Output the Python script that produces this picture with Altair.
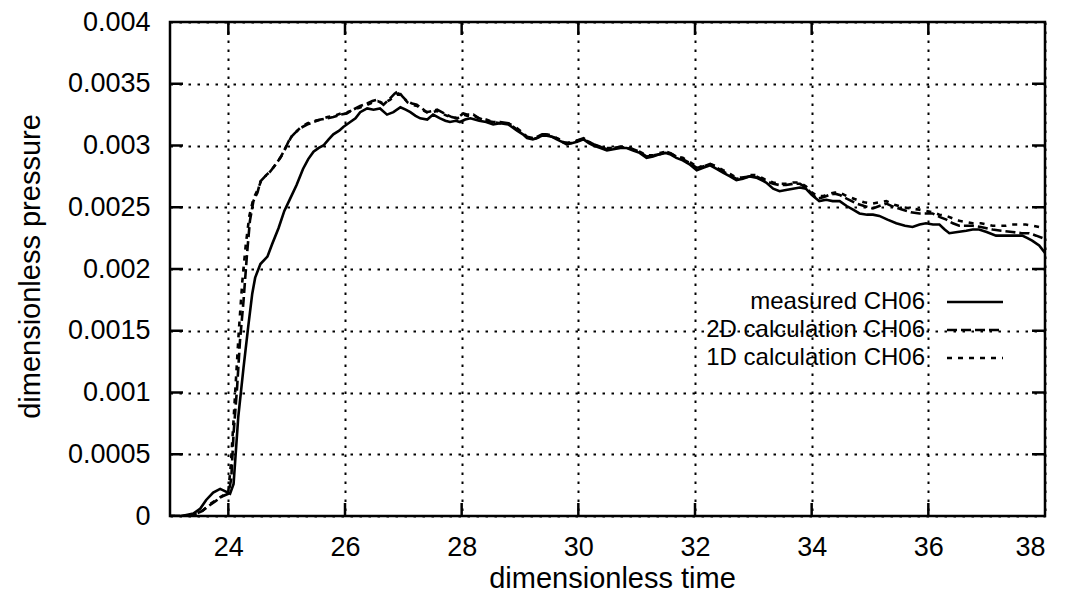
import altair as alt
import pandas as pd

# ---------------- data ----------------
meas_t = [23.0, 23.2, 23.4, 23.52, 23.62, 23.74, 23.86, 23.95, 24.03, 24.09, 24.17, 24.26, 24.34, 24.41,
          24.46, 24.55, 24.67, 24.75, 24.86, 24.96, 25.06, 25.17, 25.28, 25.37, 25.46, 25.55, 25.63, 25.72,
          25.8, 25.9, 25.97, 26.09, 26.18, 26.26, 26.38, 26.49, 26.6, 26.72, 26.83, 26.95, 27.04, 27.12,
          27.21, 27.29, 27.41, 27.51, 27.63, 27.72, 27.8, 27.9, 27.97, 28.06, 28.15, 28.3, 28.42, 28.54,
          28.66, 28.8, 28.95, 29.05, 29.12, 29.22, 29.29, 29.38, 29.46, 29.55, 29.63, 29.72, 29.8, 29.9,
          29.98, 30.09, 30.18, 30.26, 30.38, 30.49, 30.6, 30.72, 30.83, 30.94, 31.05, 31.17, 31.28, 31.4,
          31.5, 31.57, 31.68, 31.79, 31.9, 32.03, 32.14, 32.26, 32.37, 32.48, 32.6, 32.71, 32.82, 32.94,
          33.05, 33.14, 33.22, 33.34, 33.45, 33.56, 33.68, 33.8, 33.9, 34.0, 34.13, 34.25, 34.36, 34.48,
          34.6, 34.71, 34.82, 34.95, 35.05, 35.16, 35.3, 35.45, 35.6, 35.73, 35.85, 35.96, 36.08, 36.19,
          36.28, 36.36, 36.5, 36.65, 36.76, 36.87, 37.0, 37.16, 37.3, 37.45, 37.61, 37.7, 37.78, 37.9, 38.0]
meas_p = [0.0, 0.0, 0.00002, 0.00006, 0.00013, 0.00019, 0.00022, 0.0002, 0.00018, 0.00026, 0.0008, 0.0012,
          0.00153, 0.0018, 0.00193, 0.00204, 0.0021, 0.0022, 0.00233, 0.00247, 0.00257, 0.00268, 0.00281,
          0.00289, 0.00295, 0.00298, 0.003, 0.00305, 0.00309, 0.00312, 0.00315, 0.00319, 0.00322, 0.00327,
          0.0033, 0.00329, 0.0033, 0.00325, 0.00327, 0.00331, 0.00329, 0.00327, 0.00324, 0.00322, 0.00321,
          0.00325, 0.00322, 0.0032, 0.00319, 0.0032, 0.00319, 0.00321, 0.00322, 0.0032, 0.00319, 0.00317,
          0.00318, 0.00317, 0.00312, 0.00309, 0.00306, 0.00305, 0.00306, 0.00308, 0.00308, 0.00307, 0.00305,
          0.00303, 0.00301, 0.00302, 0.00303, 0.00305, 0.00302, 0.003, 0.00298, 0.00296, 0.00297, 0.00298,
          0.00298, 0.00296, 0.00294, 0.0029, 0.00291, 0.00293, 0.00294, 0.00293, 0.0029, 0.00288, 0.00285,
          0.0028, 0.00282, 0.00284, 0.00281, 0.00278, 0.00275, 0.00272, 0.00273, 0.00275, 0.00274, 0.00272,
          0.0027, 0.00265, 0.00263, 0.00264, 0.00265, 0.00266, 0.00265, 0.0026, 0.00255, 0.00256, 0.00255,
          0.00255, 0.00251, 0.00248, 0.00245, 0.00244, 0.00244, 0.00243, 0.0024, 0.00237, 0.00235, 0.00234,
          0.00236, 0.00237, 0.00236, 0.00236, 0.00232, 0.00229, 0.0023, 0.00231, 0.00232, 0.00232, 0.0023,
          0.00227, 0.00227, 0.00227, 0.00227, 0.00225, 0.00223, 0.00219, 0.00213]

calc2d_t = [23.0, 23.2, 23.4, 23.55, 23.66, 23.78, 23.9, 24.0, 24.05, 24.09, 24.15, 24.2, 24.26, 24.32,
            24.37, 24.43, 24.5, 24.55, 24.63, 24.72, 24.8, 24.89, 24.98, 25.06, 25.14, 25.23, 25.35, 25.46,
            25.58, 25.69, 25.8, 25.92, 26.03, 26.14, 26.26, 26.38, 26.47, 26.55, 26.66, 26.77, 26.85, 26.91,
            26.98, 27.06, 27.15, 27.23, 27.32, 27.4, 27.5, 27.58, 27.66, 27.74, 27.83, 27.92, 28.03, 28.1,
            28.2, 28.3, 28.42, 28.54, 28.66, 28.8, 28.95, 29.05, 29.12, 29.22, 29.29, 29.38, 29.46, 29.55,
            29.63, 29.72, 29.8, 29.9, 29.98, 30.09, 30.18, 30.26, 30.38, 30.49, 30.6, 30.72, 30.83, 30.94,
            31.05, 31.17, 31.28, 31.4, 31.5, 31.57, 31.68, 31.79, 31.9, 32.03, 32.14, 32.26, 32.37, 32.48,
            32.6, 32.71, 32.82, 32.94, 33.05, 33.14, 33.22, 33.34, 33.45, 33.56, 33.68, 33.8, 33.9, 34.0,
            34.09, 34.2, 34.3, 34.4, 34.48, 34.6, 34.77, 34.9, 35.05, 35.16, 35.28, 35.42, 35.56, 35.7,
            35.85, 35.96, 36.07, 36.2, 36.31, 36.42, 36.53, 36.65, 36.76, 36.9, 37.0, 37.1, 37.25, 37.44,
            37.6, 37.73, 37.85, 37.96, 38.0]
calc2d_p = [0.0, 0.0, 0.00001, 0.00004, 0.00008, 0.00012, 0.00016, 0.00018, 0.0003, 0.00067, 0.00104,
            0.00142, 0.00174, 0.00212, 0.00239, 0.00255, 0.00262, 0.00271, 0.00275, 0.00279, 0.00284, 0.0029,
            0.00298, 0.00306, 0.0031, 0.00314, 0.00317, 0.00319, 0.00321, 0.00322, 0.00323, 0.00325, 0.00326,
            0.00329, 0.00332, 0.00334, 0.00336, 0.00337, 0.00333, 0.00338, 0.00342, 0.00344, 0.0034, 0.00336,
            0.00334, 0.00333, 0.0033, 0.00327, 0.00328, 0.00329, 0.00327, 0.00325, 0.00323, 0.00322, 0.00326,
            0.00325, 0.00325, 0.00322, 0.0032, 0.00319, 0.00319, 0.00318, 0.00313, 0.0031, 0.00307, 0.00306,
            0.00307, 0.00309, 0.00309, 0.00307, 0.00306, 0.00303, 0.00302, 0.00302, 0.00304, 0.00306, 0.00303,
            0.00301, 0.00299, 0.00297, 0.00298, 0.00299, 0.00298, 0.00297, 0.00295, 0.00291, 0.00292, 0.00293,
            0.00295, 0.00294, 0.00291, 0.00289, 0.00286, 0.00282, 0.00283, 0.00285, 0.00282, 0.00279, 0.00276,
            0.00273, 0.00274, 0.00275, 0.00275, 0.00273, 0.00271, 0.00269, 0.00268, 0.00268, 0.00269, 0.00269,
            0.00266, 0.00261, 0.00257, 0.00258, 0.0026, 0.00261, 0.0026, 0.00257, 0.00253, 0.00251, 0.00249,
            0.00251, 0.00253, 0.0025, 0.00248, 0.00246, 0.00245, 0.00245, 0.00245, 0.00242, 0.0024, 0.00237,
            0.00235, 0.00235, 0.00235, 0.00234, 0.00233, 0.00232, 0.00231, 0.0023, 0.00229, 0.00229, 0.00227,
            0.00225, 0.00224]

calc1d_t = [23.0, 23.2, 23.4, 23.55, 23.7, 23.82, 23.92, 24.0, 24.04, 24.08, 24.13, 24.18, 24.24, 24.3,
            24.36, 24.43, 24.5, 24.56, 24.65, 24.74, 24.83, 24.92, 25.0, 25.08, 25.16, 25.25, 25.36, 25.47,
            25.58, 25.7, 25.82, 25.93, 26.04, 26.15, 26.27, 26.38, 26.48, 26.56, 26.66, 26.77, 26.85, 26.92,
            27.0, 27.07, 27.15, 27.24, 27.32, 27.4, 27.5, 27.58, 27.66, 27.75, 27.84, 27.93, 28.03, 28.1,
            28.2, 28.3, 28.42, 28.54, 28.66, 28.8, 28.95, 29.05, 29.12, 29.22, 29.29, 29.38, 29.46, 29.55,
            29.63, 29.72, 29.8, 29.9, 29.98, 30.09, 30.18, 30.26, 30.38, 30.49, 30.6, 30.72, 30.83, 30.94,
            31.05, 31.17, 31.28, 31.4, 31.5, 31.57, 31.68, 31.79, 31.9, 32.03, 32.14, 32.26, 32.37, 32.48,
            32.6, 32.71, 32.82, 32.94, 33.05, 33.14, 33.22, 33.34, 33.45, 33.56, 33.68, 33.8, 33.9, 34.0,
            34.1, 34.2, 34.3, 34.4, 34.48, 34.6, 34.77, 34.9, 35.05, 35.16, 35.28, 35.42, 35.56, 35.7, 35.85,
            35.96, 36.07, 36.19, 36.31, 36.42, 36.53, 36.65, 36.76, 36.9, 37.0, 37.1, 37.2, 37.33, 37.45,
            37.57, 37.67, 37.8, 37.9, 38.0]
calc1d_p = [0.0, 0.0, 0.00001, 0.00004, 0.0001, 0.00014, 0.00017, 0.0002, 0.0004, 0.0007, 0.0011, 0.0015,
            0.0019, 0.0022, 0.00243, 0.00257, 0.00264, 0.00271, 0.00276, 0.0028, 0.00286, 0.00292, 0.003,
            0.00307, 0.00311, 0.00315, 0.00318, 0.0032, 0.00321, 0.00323, 0.00324, 0.00326, 0.00327, 0.00329,
            0.00331, 0.00333, 0.00335, 0.00336, 0.00334, 0.00337, 0.0034, 0.00342, 0.00339, 0.00335, 0.00333,
            0.00332, 0.00329, 0.00327, 0.00327, 0.00328, 0.00326, 0.00324, 0.00323, 0.00322, 0.00325, 0.00324,
            0.00324, 0.00322, 0.00321, 0.00319, 0.00318, 0.00318, 0.00314, 0.0031, 0.00307, 0.00305, 0.00306,
            0.00308, 0.00309, 0.00308, 0.00306, 0.00304, 0.00302, 0.00303, 0.00304, 0.00305, 0.00303, 0.00301,
            0.00299, 0.00298, 0.00298, 0.00299, 0.00299, 0.00297, 0.00295, 0.00292, 0.00292, 0.00294, 0.00295,
            0.00294, 0.00291, 0.0029, 0.00287, 0.00283, 0.00283, 0.00285, 0.00283, 0.0028, 0.00277, 0.00274,
            0.00274, 0.00276, 0.00276, 0.00274, 0.00272, 0.0027, 0.00269, 0.00269, 0.0027, 0.0027, 0.00267,
            0.00262, 0.00259, 0.00259, 0.00261, 0.00262, 0.00262, 0.00259, 0.00256, 0.00254, 0.00253, 0.00254,
            0.00255, 0.00252, 0.0025, 0.00249, 0.00248, 0.00247, 0.00246, 0.00244, 0.00243, 0.00241, 0.00239,
            0.00238, 0.00237, 0.00237, 0.00236, 0.00235, 0.00235, 0.00235, 0.00236, 0.00236, 0.00236, 0.00235,
            0.00234, 0.00232]

x_ticks = [24, 26, 28, 30, 32, 34, 36, 38]
y_ticks = [0, 0.0005, 0.001, 0.0015, 0.002, 0.0025, 0.003, 0.0035, 0.004]
legend_labels = ["measured CH06", "2D calculation CH06", "1D calculation CH06"]

# ---------------- chart ----------------
W, H = 875, 494
FONT = "Liberation Sans"

xs = alt.Scale(domain=[23, 38], nice=False, zero=False)
ys = alt.Scale(domain=[0, 0.004], nice=False)

x_axis = alt.Axis(values=x_ticks, format="d", title="dimensionless time", grid=True, gridColor="black",
                  gridDash=[2.5, 6.5], gridWidth=2, gridOpacity=1, ticks=False, domain=False,
                  labelFontSize=27, labelPadding=18, labelColor="black", labelFont=FONT,
                  titleFontSize=29, titleFont=FONT, titleFontWeight="normal", titleColor="black",
                  titleX=442, titleY=62, titleBaseline="middle")
y_axis = alt.Axis(values=y_ticks, title="dimensionless pressure", format="~g", grid=True,
                  gridColor="black", gridDash=[2.5, 6.5], gridWidth=2, gridOpacity=1, ticks=False,
                  domain=False, labelFontSize=27, labelPadding=20, labelColor="black", labelFont=FONT,
                  titleFontSize=29, titleFont=FONT, titleFontWeight="normal", titleColor="black",
                  titleX=-140, titleY=244, titleAngle=-90, titleBaseline="middle", titleAlign="center")

df_m = pd.DataFrame({"t": meas_t, "p": meas_p})
df_2 = pd.DataFrame({"t": calc2d_t, "p": calc2d_p})
df_1 = pd.DataFrame({"t": calc1d_t, "p": calc1d_p})

base_line = dict(color="black", strokeWidth=2.6, clip=True)

l_meas = alt.Chart(df_m).mark_line(**base_line).encode(
    x=alt.X("t:Q", scale=xs, axis=x_axis), y=alt.Y("p:Q", scale=ys, axis=y_axis))
l_2d = alt.Chart(df_2).mark_line(strokeDash=[10, 4], **base_line).encode(
    x=alt.X("t:Q", scale=xs), y=alt.Y("p:Q", scale=ys))
l_1d = alt.Chart(df_1).mark_line(strokeDash=[5, 6], **base_line).encode(
    x=alt.X("t:Q", scale=xs), y=alt.Y("p:Q", scale=ys))

# inward ticks on all four sides (gnuplot style)
xt = pd.DataFrame({"t": x_ticks[:-1]})
yt = pd.DataFrame({"p": y_ticks[1:-1]})
tick = dict(color="black", strokeWidth=2.5)
tk_b = alt.Chart(xt).mark_rule(**tick).encode(x=alt.X("t:Q", scale=xs), y=alt.value(H), y2=alt.value(H - 13))
tk_t = alt.Chart(xt).mark_rule(**tick).encode(x=alt.X("t:Q", scale=xs), y=alt.value(0), y2=alt.value(13))
tk_l = alt.Chart(yt).mark_rule(**tick).encode(y=alt.Y("p:Q", scale=ys), x=alt.value(0), x2=alt.value(13))
tk_r = alt.Chart(yt).mark_rule(**tick).encode(y=alt.Y("p:Q", scale=ys), x=alt.value(W), x2=alt.value(W - 13))

# key inside the plot: labels on the left, line samples on the right
leg_y = [280, 308, 336]
dashes = [[1, 0], [10, 4], [5, 6]]
leg_layers = []
for lab, yy, dsh in zip(legend_labels, leg_y, dashes):
    leg_layers.append(alt.Chart(pd.DataFrame({"l": [lab]})).mark_text(
        align="right", baseline="middle", fontSize=24, font=FONT, color="black").encode(
        text="l:N", x=alt.value(755), y=alt.value(yy)))
    leg_layers.append(alt.Chart(pd.DataFrame({"l": [lab]})).mark_rule(
        color="black", strokeWidth=2.6, strokeDash=dsh).encode(
        x=alt.value(777), x2=alt.value(833), y=alt.value(yy)))

chart = alt.layer(l_meas, l_2d, l_1d, tk_b, tk_t, tk_l, tk_r, *leg_layers).properties(
    width=W, height=H,
    autosize=alt.AutoSizeParams(type="none"),
    padding={"left": 162, "top": 14, "right": 13, "bottom": 76},
    background="white",
).configure_view(stroke="black", strokeWidth=2.5)

chart.save("out.html", embed_options={"renderer": "svg", "actions": False})
